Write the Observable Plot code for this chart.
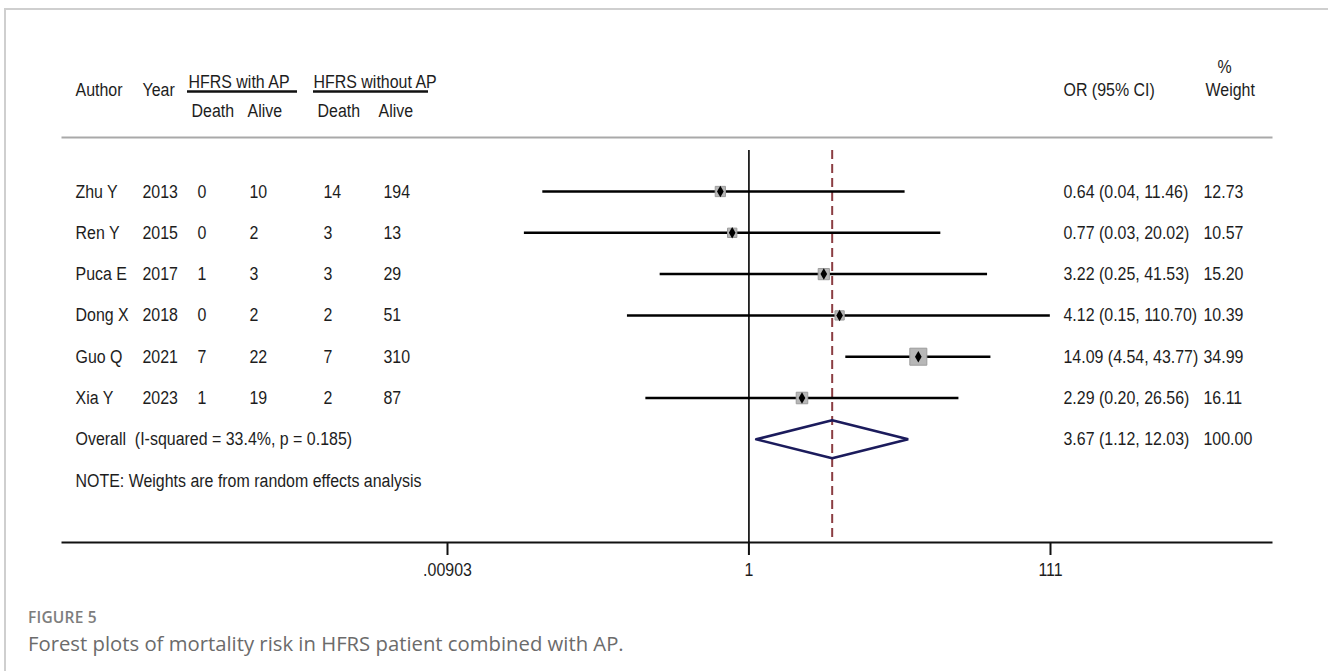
<!DOCTYPE html>
<html><head><meta charset="utf-8">
<script src="https://cdn.jsdelivr.net/npm/d3@7"></script>
<script src="https://cdn.jsdelivr.net/npm/@observablehq/plot@0.6"></script>
<style>
body{margin:0;background:#fff;}
#page{position:relative;width:1328px;height:671px;overflow:hidden;background:#fff;}
#frame{position:absolute;left:4px;top:8px;width:1340px;height:680px;border-left:2px solid #cfcfcf;border-top:2px solid #cfcfcf;}
#chart{position:absolute;left:0;top:0;}
#cap{position:absolute;left:28px;top:606px;font-family:"Open Sans","Noto Sans",sans-serif;color:#6b6b6b;}
#cap .lab{font-size:15.5px;font-weight:600;letter-spacing:0.2px;color:#7d7d7d;line-height:22px;}
#cap .txt{font-size:20.3px;line-height:28px;margin-top:1px;}
</style></head>
<body><div id="page"><div id="frame"></div><div id="chart"></div>
<div id="cap"><div class="lab">FIGURE 5</div><div class="txt">Forest plots of mortality risk in HFRS patient combined with AP.</div></div></div>
<script>
// ---- data ----
const authors = ["Zhu Y", "Ren Y", "Puca E", "Dong X", "Guo Q", "Xia Y"];
const years = [2013, 2015, 2017, 2018, 2021, 2023];
const deathWithAP = [0, 0, 1, 0, 7, 1];
const aliveWithAP = [10, 2, 3, 2, 22, 19];
const deathWithoutAP = [14, 3, 3, 2, 7, 2];
const aliveWithoutAP = [194, 13, 29, 51, 310, 87];
const oddsRatios = [0.64, 0.77, 3.22, 4.12, 14.09, 2.29];
const ciLow = [0.04, 0.03, 0.25, 0.15, 4.54, 0.20];
const ciHigh = [11.46, 20.02, 41.53, 110.70, 43.77, 26.56];
const weights = [12.73, 10.57, 15.20, 10.39, 34.99, 16.11];
const overallOR = 3.67, overallLow = 1.12, overallHigh = 12.03, overallWeight = 100.00;
const overallLabel = "Overall  (I-squared = 33.4%, p = 0.185)";
const noteLabel = "NOTE: Weights are from random effects analysis";
const tickValues = [0.00903, 1, 111];
const tickLabels = [".00903", "1", "111"];

// ---- build table ----
const rows = authors.map((a, i) => ({
  i, author: a, year: String(years[i]),
  d1: String(deathWithAP[i]), a1: String(aliveWithAP[i]),
  d2: String(deathWithoutAP[i]), a2: String(aliveWithoutAP[i]),
  or: oddsRatios[i], lo: ciLow[i], hi: ciHigh[i], w: weights[i],
  orText: `${oddsRatios[i].toFixed(2)} (${ciLow[i].toFixed(2)}, ${ciHigh[i].toFixed(2)})`,
  wText: weights[i].toFixed(2)
}));
const overallRow = rows.length;          // row index of the pooled estimate
const noteRow = rows.length + 1;
const overallRows = [{i: overallRow, label: overallLabel,
  orText: `${overallOR.toFixed(2)} (${overallLow.toFixed(2)}, ${overallHigh.toFixed(2)})`,
  wText: overallWeight.toFixed(2)}];
const half = 0.46;
const diamond = [
  {x: overallLow, y: overallRow}, {x: overallOR, y: overallRow - half},
  {x: overallHigh, y: overallRow}, {x: overallOR, y: overallRow + half},
  {x: overallLow, y: overallRow}
];
const ticks = tickValues.map((v, k) => ({v, label: tickLabels[k]}));

const FONT = "'Liberation Sans',Arial,sans-serif";
const FS = 19;
const INK = "#1d1d1d";
const col = (data, key, dx) => Plot.text(data, {y: "i", text: key, frameAnchor: "left", dx, textAnchor: "start", lineAnchor: "middle", fontSize: FS, fill: INK});
const head = (label, dx, dy) => Plot.text([label], {text: d => d, frameAnchor: "top-left", dx, dy, textAnchor: "start", lineAnchor: "middle", fontSize: FS, fill: INK});

const chart = Plot.plot({
  width: 1328, height: 600,
  marginLeft: 62, marginRight: 57, marginTop: 137, marginBottom: 58,
  style: {fontFamily: FONT, background: "transparent", color: INK},
  x: {type: "log", domain: [tickValues[0], tickValues[2]], range: [447, 1050], axis: null},
  y: {domain: [0, 1], range: [191, 232.3], axis: null},
  r: {type: "sqrt", domain: [0, 35], range: [0, 9.6]},
  marks: [
    Plot.frame({anchor: "top", stroke: "#a9a9a9", strokeWidth: 2}),
    Plot.frame({anchor: "bottom", stroke: "#111", strokeWidth: 2}),
    // header
    head("Author", 13, -48), head("Year", 80, -48),
    head("HFRS with AP", 126, -56), head("HFRS without AP", 251, -56),
    head("Death", 129, -27), head("Alive", 185, -27),
    head("Death", 255, -27), head("Alive", 316, -27),
    head("OR (95% CI)", 1001, -48), head("%", 1155, -71), head("Weight", 1143, -48),
    Plot.ruleY([0], {dy: -100, insetLeft: 125, insetRight: 974, stroke: "#111", strokeWidth: 2.5}),
    Plot.ruleY([0], {dy: -100, insetLeft: 251, insetRight: 843, stroke: "#111", strokeWidth: 2.5}),
    // reference lines
    Plot.ruleX([1], {insetTop: 13, stroke: "#000", strokeWidth: 1.6}),
    Plot.ruleX([overallOR], {insetTop: 13, stroke: "#8b3d42", strokeWidth: 2, strokeDasharray: "9,5"}),
    // confidence intervals and estimates
    Plot.ruleY(rows, {y: "i", x1: "lo", x2: "hi", stroke: "#000", strokeWidth: 2.5}),
    Plot.dot(rows, {x: "or", y: "i", r: "w", symbol: "square", fill: "#b7b7b7", stroke: "#9c9c9c", strokeWidth: 1}),
    Plot.dot(rows, {x: "or", y: "i", r: 3.5, symbol: "diamond", fill: "#000"}),
    Plot.line(diamond, {x: "x", y: "y", stroke: "#1b1b5c", strokeWidth: 2.6, strokeLinejoin: "miter"}),
    // table columns
    col(rows, "author", 13), col(rows, "year", 80),
    col(rows, "d1", 135), col(rows, "a1", 187),
    col(rows, "d2", 261), col(rows, "a2", 321),
    col(rows, "orText", 1001), col(rows, "wText", 1141),
    col(overallRows, "label", 13), col(overallRows, "orText", 1001), col(overallRows, "wText", 1141),
    Plot.text([{i: noteRow, label: noteLabel}], {y: "i", text: "label", frameAnchor: "left", dx: 13, textAnchor: "start", lineAnchor: "middle", fontSize: FS, fill: INK}),
    // axis ticks and labels
    Plot.ruleX(ticks, {x: "v", insetTop: 405, insetBottom: -13, stroke: "#111", strokeWidth: 2}),
    Plot.text(ticks, {x: "v", text: "label", frameAnchor: "bottom", dy: 27, lineAnchor: "middle", fontSize: FS, fill: INK})
  ]
});
document.getElementById("chart").appendChild(chart);
// the reference uses a condensed face: narrow every label horizontally about its anchor
chart.querySelectorAll("text").forEach(t => {
  const tr = t.getAttribute("transform") || "";
  const x = +t.getAttribute("x") || 0;
  t.setAttribute("transform", `${tr} translate(${x},0) scale(0.84,1) translate(${-x},0)`);
});
</script>
</body></html>
